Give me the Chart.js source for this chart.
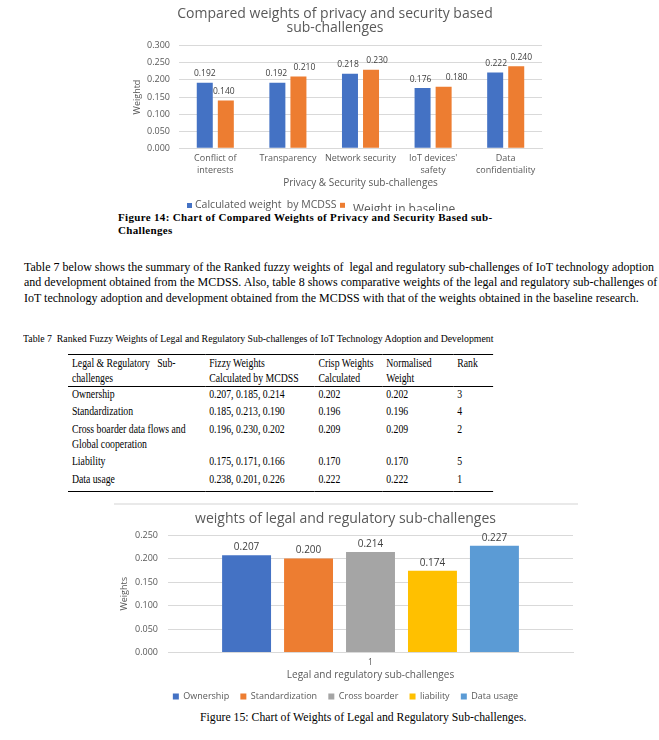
<!DOCTYPE html>
<html>
<head>
<meta charset="utf-8">
<script src="https://cdn.jsdelivr.net/npm/chart.js@4.4.1/dist/chart.umd.min.js"></script>
<style>
  body { margin: 0; background: #fff; font-family: "Liberation Serif", serif; color: #000; }
  .abs { position: absolute; }
  #box1 { left: 120px; top: 0; width: 429px; height: 210.7px; overflow: hidden; }
  #box2 { left: 114px; top: 503px; width: 464px; height: 208px; border-top: 2px solid #e9e9e9; overflow: hidden; }
  #cap14 { left: 118px; top: 210.5px; font-size: 11px; font-weight: bold; line-height: 13.5px; letter-spacing: 0.33px; white-space: nowrap; }
  .pline { width: 622px; font-size: 12px; line-height: 15.5px; text-align: justify; text-align-last: justify; white-space: nowrap; }
  .pline.last { text-align-last: left; }
  #para { left: 24px; top: 259.5px; }
  #tcap { left: 23px; top: 330.5px; font-size: 11px; line-height: 14px; white-space: pre; transform: scaleX(0.89); transform-origin: 0 0; }
  #tbl { left: 68px; top: 353.5px; transform: scaleX(0.78); transform-origin: 0 0; }
  table { border-collapse: collapse; table-layout: fixed; width: 545px; font-size: 12.5px; line-height: 15px;
          border-top: 1.5px solid #000; border-bottom: 1.5px solid #000; }
  td { padding: 1.25px 0 1.25px 5px; vertical-align: top; white-space: nowrap; }
  tr.head td { border-bottom: 1px solid #000; padding-top: 1px; padding-bottom: 0; }
  tr.first td { padding-top: 0; }
  tr.lastrow td { padding-bottom: 4px; }
  #cap15 { left: 200px; top: 711.3px; font-size: 11.75px; line-height: 14px; white-space: nowrap; }
</style>
</head>
<body>

<div id="box1" class="abs"><canvas id="chart1" width="429" height="219"></canvas></div>

<div id="cap14" class="abs">Figure 14: Chart of Compared Weights of Privacy and Security Based sub-<br>Challenges</div>

<div id="para" class="abs">
  <div class="pline">Table 7 below shows the summary of the Ranked fuzzy weights of &nbsp;legal and regulatory sub-challenges of IoT technology adoption</div>
  <div class="pline">and development obtained from the MCDSS. Also, table 8 shows comparative weights of the legal and regulatory sub-challenges of</div>
  <div class="pline last">IoT technology adoption and development obtained from the MCDSS with that of the weights obtained in the baseline research.</div>
</div>

<div id="tcap" class="abs">Table 7  Ranked Fuzzy Weights of Legal and Regulatory Sub-challenges of IoT Technology Adoption and Development</div>

<div id="tbl" class="abs">
  <table>
    <colgroup><col style="width:176px"><col style="width:140px"><col style="width:87px"><col style="width:91px"><col style="width:51px"></colgroup>
    <tr class="head"><td>Legal &amp; Regulatory &nbsp;&nbsp;Sub-<br>challenges</td><td>Fizzy Weights<br>Calculated by MCDSS</td><td>Crisp Weights<br>Calculated</td><td>Normalised<br>Weight</td><td>Rank</td></tr>
    <tr class="first"><td>Ownership</td><td>0.207, 0.185, 0.214</td><td>0.202</td><td>0.202</td><td>3</td></tr>
    <tr><td>Standardization</td><td>0.185, 0.213, 0.190</td><td>0.196</td><td>0.196</td><td>4</td></tr>
    <tr><td>Cross boarder data flows and<br>Global cooperation</td><td>0.196, 0.230, 0.202</td><td>0.209</td><td>0.209</td><td>2</td></tr>
    <tr><td>Liability</td><td>0.175, 0.171, 0.166</td><td>0.170</td><td>0.170</td><td>5</td></tr>
    <tr class="lastrow"><td>Data usage</td><td>0.238, 0.201, 0.226</td><td>0.222</td><td>0.222</td><td>1</td></tr>
  </table>
</div>

<div id="box2" class="abs"><canvas id="chart2" width="464" height="206"></canvas></div>

<div id="cap15" class="abs">Figure 15: Chart of Weights of Legal and Regulatory Sub-challenges.</div>

<script>
// ======== Dados ========

// Figure 14
const privacyCategories = [["Conflict of", "interests"], ["Transparency"], ["Network security"], ["IoT devices'", "safety"], ["Data", "confidentiality"]];
const mcdssWeights = [0.192, 0.192, 0.218, 0.176, 0.222];
const baselineWeights = [0.140, 0.210, 0.230, 0.180, 0.240];
const privacyTicks = [0, 0.05, 0.1, 0.15, 0.2, 0.25, 0.3];

// Figure 15
const legalCategories = ["1"];
const legalNames = ["Ownership", "Standardization", "Cross boarder", "liability", "Data usage"];
const legalWeights = [0.207, 0.200, 0.214, 0.174, 0.227];
const legalTicks = [0, 0.05, 0.1, 0.15, 0.2, 0.25];

const legalColors = ["#4472C4", "#ED7D31", "#A5A5A5", "#FFC000", "#5B9BD5"];
const FONT = "'Open Sans', sans-serif";
const GREY = "#595959";

// rótulos de valor em cima das barras (shift = deslocamento manual dos rótulos, como no Excel)
const barLabels = {
  id: "barLabels",
  afterDatasetsDraw(chart, args, opts) {
    const ctx = chart.ctx;
    ctx.save();
    ctx.font = opts.size + "px " + FONT;
    ctx.fillStyle = opts.color;
    ctx.textAlign = "center";
    ctx.textBaseline = "middle";
    chart.data.datasets.forEach((ds, i) => {
      chart.getDatasetMeta(i).data.forEach((bar, j) => {
        const dx = opts.shift ? opts.shift[i][j] : 0;
        ctx.fillText(ds.data[j].toFixed(3), bar.x + dx, bar.y - opts.offset);
      });
    });
    ctx.restore();
  },
};

// legenda do gráfico 1 (o segundo item usa fonte maior, como no original)
const legendRow = {
  id: "legendRow",
  afterDraw(chart, args, opts) {
    const ctx = chart.ctx;
    ctx.save();
    ctx.textBaseline = "middle";
    ctx.textAlign = "left";
    chart.data.datasets.forEach((ds, i) => {
      const it = opts.items[i];
      ctx.fillStyle = ds.backgroundColor;
      ctx.fillRect(it.x, it.boxY - it.box / 2, it.box, it.box);
      ctx.font = it.size + "px " + FONT;
      ctx.fillStyle = GREY;
      ctx.fillText(ds.label, it.textX, it.textY);
    });
    ctx.restore();
  },
};

function yTicks(values) {
  return {
    min: values[0],
    max: values[values.length - 1],
    afterBuildTicks: (scale) => { scale.ticks = values.map((v) => ({ value: v })); },
  };
}

// ======== Gráfico 1 ========
new Chart(document.getElementById("chart1").getContext("2d"), {
  type: "bar",
  data: {
    labels: privacyCategories,
    datasets: [
      { label: "Calculated weight  by MCDSS", data: mcdssWeights, backgroundColor: "#4472C4" },
      { label: "Weight in baseline", data: baselineWeights, backgroundColor: "#ED7D31" },
    ],
  },
  options: {
    responsive: false,
    animation: false,
    devicePixelRatio: 1,
    layout: { padding: { left: 8, right: 7, top: 0, bottom: 28.5 } },
    datasets: { bar: { categoryPercentage: 0.58, barPercentage: 0.76 } },
    plugins: {
      title: {
        display: true,
        text: ["Compared weights of privacy and security based", "sub-challenges"],
        color: GREY,
        font: { family: FONT, size: 14, weight: "normal", lineHeight: 1.0 },
        padding: { top: 7, bottom: 10.7 },
      },
      legend: { display: false },
      legendRow: {
        items: [
          { x: 67, box: 5, boxY: 205.5, textX: 75, textY: 205, size: 10.5 },
          { x: 220, box: 5, boxY: 205.3, textX: 233, textY: 209.5, size: 12 },
        ],
      },
      tooltip: { enabled: false },
      barLabels: { size: 8.5, color: "#404040", offset: 9, shift: [[0, -1, -2, -2, 1], [-2, 6, 6, 13, 5]] },
    },
    scales: {
      y: {
        ...yTicks(privacyTicks),
        afterFit: (scale) => { scale.width = 51; },
        grid: { color: "#d9d9d9", drawTicks: false },
        border: { display: false },
        ticks: { color: GREY, padding: 9, font: { family: FONT, size: 9 }, callback: (v) => Number(v).toFixed(3) },
        title: { display: true, text: "Weightd", color: GREY, padding: { top: 4, bottom: 0 }, font: { family: FONT, size: 9 } },
      },
      x: {
        afterFit: (scale) => { scale.height = 42.2; },
        grid: { display: false, drawTicks: false },
        border: { color: "#d9d9d9" },
        ticks: { color: GREY, padding: 4, maxRotation: 0, autoSkip: false, font: { family: FONT, size: 9, lineHeight: 1.35 } },
        title: { display: true, text: "Privacy & Security sub-challenges", color: GREY, padding: { top: 0, bottom: 1 }, font: { family: FONT, size: 10 } },
      },
    },
  },
  plugins: [barLabels, legendRow],
});

// ======== Gráfico 2 ========
new Chart(document.getElementById("chart2").getContext("2d"), {
  type: "bar",
  data: {
    labels: legalCategories,
    datasets: legalNames.map((name, i) => ({
      label: name,
      data: [legalWeights[i]],
      backgroundColor: legalColors[i],
    })),
  },
  options: {
    responsive: false,
    animation: false,
    devicePixelRatio: 1,
    layout: { padding: { left: 4, right: 5, top: 0, bottom: 0 } },
    datasets: { bar: { categoryPercentage: 0.765, barPercentage: 0.79 } },
    plugins: {
      title: {
        display: true,
        text: "weights of legal and regulatory sub-challenges",
        color: GREY,
        font: { family: FONT, size: 14, weight: "normal", lineHeight: 1.15 },
        padding: { top: 5.5, bottom: 8.4 },
      },
      legend: {
        position: "bottom",
        labels: { color: GREY, boxWidth: 6, boxHeight: 6, padding: 11.2, font: { family: FONT, size: 9 } },
      },
      tooltip: { enabled: false },
      barLabels: { size: 10, color: "#404040", offset: 8 },
    },
    scales: {
      y: {
        ...yTicks(legalTicks),
        afterFit: (scale) => { scale.width = 50; },
        grid: { color: "#d9d9d9", drawTicks: false },
        border: { display: false },
        ticks: { color: GREY, padding: 10, font: { family: FONT, size: 9 }, callback: (v) => Number(v).toFixed(3) },
        title: { display: true, text: "Weights", color: GREY, padding: { top: 1, bottom: 0 }, font: { family: FONT, size: 9 } },
      },
      x: {
        afterFit: (scale) => { scale.height = 28.3; },
        grid: { display: false, drawTicks: false },
        border: { color: "#d9d9d9" },
        ticks: { color: GREY, padding: 5.2, font: { family: FONT, size: 8.5 } },
        title: { display: true, text: "Legal and regulatory sub-challenges", color: GREY, padding: { top: 2, bottom: 0 }, font: { family: FONT, size: 10 } },
      },
    },
  },
  plugins: [barLabels],
});
</script>
</body>
</html>
